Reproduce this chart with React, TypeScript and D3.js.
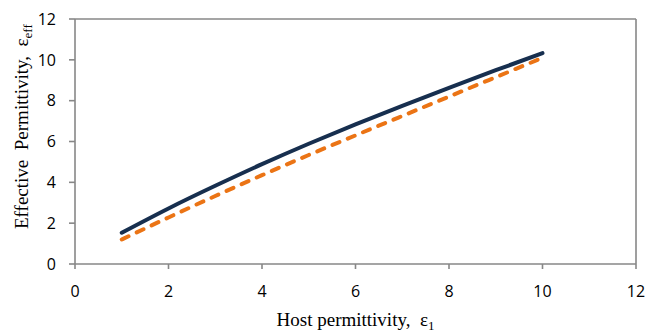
import React from "react";
import * as d3 from "d3";

const hostPermittivity = [1, 2, 3, 4, 5, 6, 7, 8, 9, 10];
const solidSeries = [1.53, 2.72, 3.83, 4.89, 5.89, 6.84, 7.75, 8.63, 9.49, 10.33];
const dashedSeries = [1.2, 2.28, 3.33, 4.35, 5.34, 6.3, 7.25, 8.2, 9.15, 10.1];
const xTicks = [0, 2, 4, 6, 8, 10, 12];
const yTicks = [0, 2, 4, 6, 8, 10, 12];

const W = 648;
const H = 333;
const left = 75;
const right = 636;
const top = 19;
const bottom = 264;

export default function App() {
  const x = d3.scaleLinear().domain([0, 12]).range([left, right]);
  const y = d3.scaleLinear().domain([0, 12]).range([bottom, top]);
  const line = d3
    .line<number>()
    .x((_, i) => x(hostPermittivity[i]))
    .y((d) => y(d))
    .curve(d3.curveNatural);
  const axisColor = "#878787";
  const tickFont = "'Open Sans', sans-serif";
  const titleFont = "'Liberation Serif', 'Times New Roman', serif";
  return (
    <svg
      width={W}
      height={H}
      style={{ position: "absolute", left: 0, top: 0, background: "#fff" }}
    >
      <line x1={left} x2={right} y1={top} y2={top} stroke={axisColor} strokeWidth={1.6} />
      <line x1={right} x2={right} y1={top} y2={bottom} stroke={axisColor} strokeWidth={1.6} />
      <line x1={left} x2={left} y1={top} y2={bottom} stroke={axisColor} strokeWidth={1.6} />
      <line x1={left} x2={right} y1={bottom} y2={bottom} stroke={axisColor} strokeWidth={1.6} />
      {yTicks.map((t) => (
        <g key={"y" + t}>
          <line x1={left - 6} x2={left} y1={y(t)} y2={y(t)} stroke={axisColor} strokeWidth={1.6} />
          <text
            x={left - 19}
            y={y(t)}
            dy="0.36em"
            textAnchor="end"
            fontFamily={tickFont}
            fontSize={16}
            fill="#000"
          >
            {t}
          </text>
        </g>
      ))}
      {xTicks.map((t) => (
        <g key={"x" + t}>
          <line x1={x(t)} x2={x(t)} y1={bottom} y2={bottom + 5} stroke={axisColor} strokeWidth={1.6} />
          <text
            x={x(t)}
            y={291}
            dy="0.36em"
            textAnchor="middle"
            fontFamily={tickFont}
            fontSize={16}
            fill="#000"
          >
            {t}
          </text>
        </g>
      ))}
      <path
        d={line(dashedSeries) || ""}
        fill="none"
        stroke="#EB7415"
        strokeWidth={4}
        strokeLinecap="round"
        strokeDasharray="7.5 9"
      />
      <path
        d={line(solidSeries) || ""}
        fill="none"
        stroke="#172F4F"
        strokeWidth={4}
        strokeLinecap="round"
      />
      <text
        x={(left + right) / 2}
        y={326}
        textAnchor="middle"
        fontFamily={titleFont}
        fontSize={19}
        fill="#000"
      >
        Host permittivity,{"\u00a0\u00a0"}ε
        <tspan fontSize={13} dy={4}>1</tspan>
      </text>
      <text
        transform={`translate(28, 229) rotate(-90)`}
        textAnchor="start"
        fontFamily={titleFont}
        fontSize={19}
        fill="#000"
      >
        Effective{"\u00a0\u00a0"}Permittivity,{"\u00a0\u00a0"}ε
        <tspan fontSize={13} dy={4}>eff</tspan>
      </text>
    </svg>
  );
}
